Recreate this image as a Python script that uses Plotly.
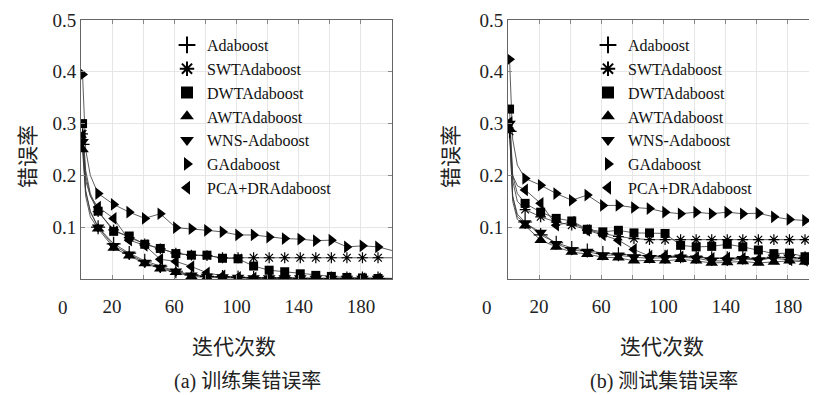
import plotly.graph_objects as go

# iterations at which values were read (markers every 10 starting at 1)
ITER = [1, 3, 6, 11, 21, 31, 41, 51, 61, 71, 81, 91, 101, 111, 121, 131, 141, 151, 161, 171, 181, 191, 200]

SERIES = ["Adaboost", "SWTAdaboost", "DWTAdaboost", "AWTAdaboost", "WNS-Adaboost", "GAdaboost", "PCA+DRAdaboost"]

# (a) training error
train_adaboost = [0.26, 0.17, 0.13, 0.10, 0.068, 0.050, 0.035, 0.025, 0.015, 0.008, 0.005, 0.004, 0.003, 0.002, 0.002, 0.002, 0.001, 0.001, 0.001, 0.001, 0.001, 0.001, 0.001]
train_swt = [0.28, 0.20, 0.16, 0.13, 0.095, 0.080, 0.068, 0.058, 0.050, 0.046, 0.045, 0.041, 0.041, 0.041, 0.041, 0.041, 0.041, 0.041, 0.041, 0.041, 0.041, 0.041, 0.041]
train_dwt = [0.30, 0.21, 0.165, 0.131, 0.092, 0.083, 0.067, 0.059, 0.049, 0.046, 0.046, 0.040, 0.039, 0.025, 0.017, 0.014, 0.010, 0.007, 0.005, 0.003, 0.002, 0.001, 0.001]
train_awt = [0.25, 0.16, 0.12, 0.097, 0.060, 0.045, 0.030, 0.020, 0.013, 0.005, 0.003, 0.002, 0.001, 0.001, 0.001, 0.001, 0.001, 0.000, 0.000, 0.000, 0.000, 0.000, 0.000]
train_wns = [0.265, 0.17, 0.13, 0.100, 0.064, 0.048, 0.032, 0.022, 0.015, 0.007, 0.005, 0.004, 0.003, 0.002, 0.002, 0.002, 0.002, 0.001, 0.001, 0.001, 0.001, 0.001, 0.001]
train_ga = [0.395, 0.25, 0.20, 0.165, 0.144, 0.129, 0.117, 0.126, 0.099, 0.097, 0.094, 0.091, 0.085, 0.085, 0.081, 0.078, 0.077, 0.074, 0.075, 0.062, 0.064, 0.062, 0.055]
train_pca = [0.277, 0.19, 0.16, 0.139, 0.117, 0.075, 0.065, 0.038, 0.034, 0.024, 0.012, 0.006, 0.003, 0.002, 0.002, 0.002, 0.001, 0.001, 0.001, 0.001, 0.001, 0.001, 0.001]

# (b) test error
test_adaboost = [0.285, 0.16, 0.125, 0.11, 0.085, 0.070, 0.060, 0.055, 0.050, 0.048, 0.046, 0.045, 0.043, 0.044, 0.043, 0.040, 0.040, 0.041, 0.040, 0.042, 0.041, 0.040, 0.040]
test_swt = [0.285, 0.19, 0.15, 0.134, 0.120, 0.110, 0.104, 0.095, 0.088, 0.082, 0.078, 0.076, 0.076, 0.076, 0.076, 0.076, 0.076, 0.076, 0.076, 0.076, 0.076, 0.076, 0.076]
test_dwt = [0.328, 0.20, 0.165, 0.146, 0.129, 0.117, 0.112, 0.096, 0.091, 0.094, 0.089, 0.089, 0.088, 0.065, 0.062, 0.063, 0.067, 0.062, 0.056, 0.049, 0.050, 0.043, 0.042]
test_awt = [0.29, 0.15, 0.115, 0.103, 0.075, 0.062, 0.052, 0.048, 0.042, 0.041, 0.035, 0.036, 0.035, 0.038, 0.035, 0.031, 0.032, 0.034, 0.031, 0.033, 0.035, 0.033, 0.032]
test_wns = [0.30, 0.16, 0.12, 0.108, 0.090, 0.068, 0.056, 0.053, 0.046, 0.046, 0.042, 0.040, 0.041, 0.042, 0.040, 0.035, 0.035, 0.039, 0.036, 0.042, 0.042, 0.038, 0.037]
test_ga = [0.424, 0.27, 0.22, 0.194, 0.181, 0.165, 0.152, 0.162, 0.142, 0.142, 0.138, 0.136, 0.129, 0.126, 0.129, 0.126, 0.129, 0.126, 0.127, 0.120, 0.115, 0.113, 0.108]
test_pca = [0.302, 0.20, 0.18, 0.172, 0.146, 0.104, 0.110, 0.094, 0.085, 0.075, 0.057, 0.044, 0.045, 0.043, 0.042, 0.040, 0.041, 0.040, 0.038, 0.040, 0.037, 0.036, 0.038]

X_TICKS = [20, 40, 60, 80, 100, 120, 140, 160, 180]
X_TICKTEXT = ["20", "", "60", "", "100", "", "140", "", "180"]
Y_TICKS = [0.1, 0.2, 0.3, 0.4, 0.5]
Y_TICKTEXT = ["0.1", "0.2", "0.3", "0.4", "0.5"]

train = [train_adaboost, train_swt, train_dwt, train_awt, train_wns, train_ga, train_pca]
test = [test_adaboost, test_swt, test_dwt, test_awt, test_wns, test_ga, test_pca]

SYMBOLS = ["cross-thin-open", "asterisk-open", "square", "triangle-up", "triangle-down", "triangle-right", "triangle-left"]
SIZES = [10, 9, 9, 11, 11, 11, 11]

FONT = "Liberation Serif, 'Noto Sans CJK SC', serif"
CJK = "'Noto Sans CJK SC', sans-serif"

# the page body has an 8px margin: work in page pixels and convert
OFF = 8
W, H = 817 - OFF, 395 - OFF
def fx(px):
    return (px - OFF) / W

PL, PR, PT, PB = 81, 392, 20, 279   # left panel plot area, page pixels
QL = 508                            # right panel left edge, page pixels
PH = PB - PT
def fy(py):
    return (PB - py) / PH

fig = go.Figure()
for data, xa, ya, lg in [(train, "x", "y", "legend"), (test, "x2", "y2", "legend2")]:
    for name, vals in zip(SERIES, data):
        fig.add_trace(go.Scatter(
            x=ITER, y=vals, mode="lines", xaxis=xa, yaxis=ya, showlegend=False,
            line=dict(color="#333333", width=0.8), hoverinfo="skip"))
    for name, vals, sym, sz in zip(SERIES, data, SYMBOLS, SIZES):
        msize = [sz if (it - 1) % 10 == 0 else 0 for it in ITER]
        fig.add_trace(go.Scatter(
            x=ITER, y=vals, name=name, mode="markers",
            xaxis=xa, yaxis=ya, legend=lg,
            marker=dict(symbol=sym, size=msize, color="black", opacity=1,
                        line=dict(color="black", width=1.2 if "open" in sym else 0)),
        ))

axis_common = dict(showline=True, linecolor="#666666", linewidth=1, mirror="ticks",
                   ticks="inside", ticklen=4, tickcolor="#888888", automargin=False,
                   showgrid=True, gridcolor="#e6e6e6", gridwidth=1, zeroline=False,
                   tickfont=dict(family=FONT, size=19, color="#222"))

legend_common = dict(xref="paper", yref="paper", xanchor="left", yanchor="top",
                     bgcolor="rgba(255,255,255,0)", font=dict(family=FONT, size=16, color="#111"),
                     itemsizing="constant", tracegroupgap=0)

px_per_unit = (PR - PL) / 200.0
x2_max = (817 - QL) / px_per_unit

fig.update_layout(
    width=W, height=H,
    margin=dict(l=0, r=0, t=PT - OFF, b=395 - PB, autoexpand=False),
    plot_bgcolor="white", paper_bgcolor="white",
    showlegend=True,
    font=dict(family=FONT, color="#222"),
    xaxis=dict(domain=[fx(PL), fx(PR)], range=[0, 200], tickvals=X_TICKS, ticktext=X_TICKTEXT,
               anchor="y", ticklabelstandoff=10, **axis_common),
    yaxis=dict(domain=[0, 1], range=[0, 0.5], tickvals=Y_TICKS, ticktext=Y_TICKTEXT, anchor="x",
               **axis_common),
    xaxis2=dict(domain=[fx(QL), 1.0], range=[0, x2_max], tickvals=X_TICKS, ticktext=X_TICKTEXT,
                anchor="y2", ticklabelstandoff=10, **axis_common),
    yaxis2=dict(domain=[0, 1], range=[0, 0.5], tickvals=Y_TICKS, ticktext=Y_TICKTEXT, anchor="x2",
                **axis_common),
    legend=dict(x=fx(167), y=fy(28), **legend_common),
    legend2=dict(x=fx(588), y=fy(28), **legend_common),
)

for xc, ytx, caption, cap_x, title_x in [(63, 26, "(a) 训练集错误率", 248, 234),
                                          (487, 449, "(b) 测试集错误率", 664, 662)]:
    fig.add_annotation(text="0", xref="paper", yref="paper", x=fx(xc), y=fy(307),
                       xanchor="center", yanchor="middle", showarrow=False,
                       font=dict(family=FONT, size=19, color="#222"))
    fig.add_annotation(text="错误率", xref="paper", yref="paper", x=fx(ytx), y=fy(157),
                       xanchor="center", yanchor="middle", showarrow=False, textangle=-90,
                       font=dict(family=CJK, size=21, color="#222"))
    fig.add_annotation(text="迭代次数", xref="paper", yref="paper", x=fx(title_x), y=fy(345),
                       xanchor="center", yanchor="middle", showarrow=False,
                       font=dict(family=CJK, size=21, color="#222"))
    fig.add_annotation(text=caption, xref="paper", yref="paper", x=fx(cap_x), y=fy(382),
                       xanchor="center", yanchor="middle", showarrow=False,
                       font=dict(family=FONT, size=20, color="#222"))

fig.write_html("out.html")
